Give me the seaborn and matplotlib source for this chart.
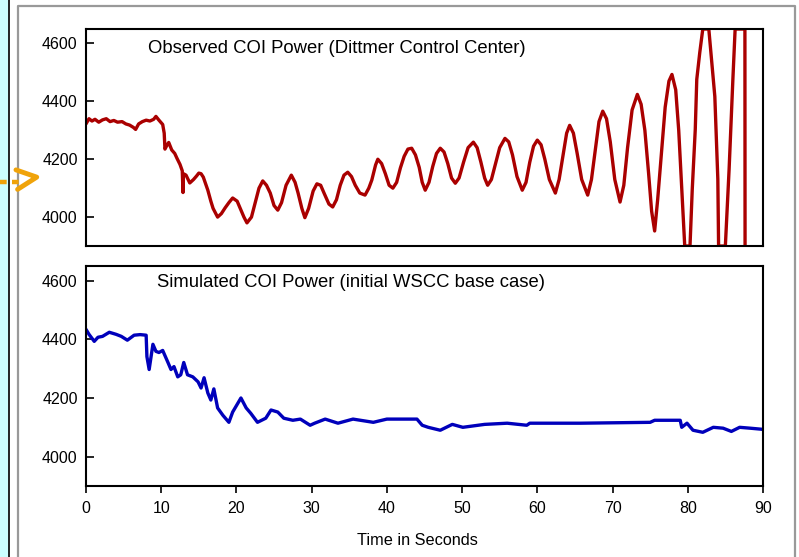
import matplotlib
matplotlib.use("Agg")
import matplotlib.pyplot as plt
from matplotlib.lines import Line2D
from matplotlib.patches import Rectangle
import seaborn as sns
import pandas as pd

# Observed COI power (Dittmer Control Center)
obs_time = [0.0, 0.4, 0.8, 1.2, 1.7, 2.2, 2.7, 3.2, 3.7, 4.2, 4.8, 5.3, 5.8, 6.3, 6.6,
            7.0, 7.5, 8.0, 8.5, 9.0, 9.3, 9.7, 10.2, 10.4, 10.5, 10.8, 11.0, 11.4, 11.8,
            12.1, 12.5, 12.8, 12.9, 12.95, 13.3, 13.8, 14.3, 14.7, 15.0, 15.3, 15.6, 16.2,
            16.6, 16.9, 17.5, 18.0, 18.5, 19.0, 19.5, 20.1, 20.7, 21.0, 21.4, 22.0, 22.5,
            23.0, 23.5, 24.0, 24.5, 25.0, 25.5, 26.0, 26.6, 27.3, 27.8, 28.2, 28.7, 29.1,
            29.6, 30.2, 30.7, 31.2, 31.7, 32.3, 32.8, 33.3, 33.8, 34.3, 34.8, 35.3, 35.8,
            36.4, 37.1, 37.6, 38.0, 38.5, 38.8, 39.3, 39.8, 40.3, 40.8, 41.3, 41.8, 42.3,
            42.8, 43.3, 43.8, 44.3, 44.7, 45.1, 45.6, 46.1, 46.6, 47.1, 47.6, 48.1, 48.6,
            49.1, 49.6, 50.2, 50.8, 51.5, 52.0, 52.5, 53.0, 53.4, 53.9, 54.4, 55.0, 55.7,
            56.2, 56.7, 57.3, 58.0, 58.5, 59.0, 59.5, 60.0, 60.5, 61.0, 61.6, 62.4, 62.9,
            63.4, 63.9, 64.3, 64.8, 65.3, 65.9, 66.7, 67.2, 67.7, 68.2, 68.7, 69.2, 69.7,
            70.3, 71.0, 71.5, 72.0, 72.6, 73.3, 73.8, 74.3, 74.8, 75.2, 75.6, 76.0, 76.5,
            77.0, 77.5, 77.9, 78.4, 78.8, 79.2, 79.6, 80.3, 80.6, 81.0, 81.2, 81.6, 82.0,
            82.8, 83.2, 83.6, 84.0, 84.1, 85.0, 85.5, 86.0, 86.3, 87.6, 87.62]
obs_power = [4322, 4340, 4332, 4338, 4328, 4336, 4340, 4330, 4334, 4328, 4330, 4322, 4318, 4310, 4303,
             4322, 4330, 4335, 4332, 4338, 4348, 4335, 4320, 4290, 4235, 4250, 4258, 4232, 4220,
             4203, 4182, 4160, 4085, 4150, 4145, 4118, 4130, 4142, 4152, 4150, 4138, 4093,
             4055, 4030, 4000, 4012, 4032, 4050, 4066, 4055, 4018, 4000, 3980, 4000, 4050,
             4100, 4125, 4110, 4083, 4040, 4024, 4050, 4110, 4145, 4120, 4083, 4030, 3998,
             4030, 4090, 4115, 4110, 4080, 4045, 4035, 4060, 4110, 4145, 4155, 4140, 4110,
             4083, 4076, 4100, 4128, 4180, 4200, 4185, 4150, 4110, 4100, 4120, 4170, 4210,
             4235, 4238, 4215, 4172, 4120, 4093, 4120, 4175, 4220, 4238, 4225, 4185, 4135,
             4117, 4135, 4190, 4240, 4259, 4240, 4190, 4135, 4110, 4130, 4180, 4240, 4272,
             4260, 4215, 4140, 4093, 4120, 4190, 4245, 4266, 4250, 4200, 4130, 4083, 4130,
             4210, 4290, 4317, 4290, 4220, 4130, 4076, 4130, 4230, 4330, 4366, 4340, 4260,
             4130, 4052, 4110, 4240, 4370, 4424, 4390, 4300, 4150, 4020, 3952, 4060, 4220,
             4380, 4470, 4493, 4440, 4300, 4100, 3900, 3900, 4096, 4303, 4476, 4569, 4650,
             4650, 4534, 4417, 4131, 3900, 3900, 4166, 4476, 4650, 4650, 3890]

# Simulated COI power (initial WSCC base case)
sim_time = [0.0, 0.4, 1.1, 1.6, 2.2, 3.1, 4.0, 4.7, 5.5, 6.4, 7.2, 8.0, 8.1, 8.4, 8.9,
            9.3, 9.7, 10.2, 10.9, 11.3, 11.7, 12.2, 12.6, 13.0, 13.5, 14.2, 14.9, 15.3,
            15.7, 16.2, 16.6, 17.0, 17.5, 18.2, 19.0, 19.5, 20.6, 21.3, 21.9, 22.8, 23.9,
            24.6, 25.5, 26.3, 27.5, 28.5, 29.8, 30.4, 31.8, 33.5, 35.5, 38.2, 40.0, 44.0,
            44.7, 45.5, 47.1, 48.7, 50.1, 53.0, 56.0, 58.6, 59.0, 63.0, 65.7, 75.0, 75.6,
            79.0, 79.2, 79.9, 80.7, 82.0, 83.4, 84.7, 85.8, 86.9, 88.3, 90.0]
sim_power = [4434, 4417, 4393, 4407, 4410, 4424, 4417, 4410, 4397, 4414, 4416, 4414, 4341, 4297, 4383,
             4359, 4355, 4362, 4321, 4297, 4307, 4272, 4279, 4321, 4279, 4272, 4255, 4234,
             4269, 4217, 4193, 4231, 4166, 4141, 4117, 4152, 4200, 4166, 4148, 4117, 4131,
             4159, 4152, 4131, 4124, 4128, 4107, 4114, 4128, 4114, 4128, 4117, 4128, 4128,
             4107, 4100, 4090, 4110, 4100, 4110, 4114, 4107, 4114, 4114, 4114, 4117, 4124,
             4124, 4100, 4114, 4090, 4083, 4100, 4097, 4086, 4100, 4097, 4093]

y_ticks = [4000, 4200, 4400, 4600]
x_ticks = [0, 10, 20, 30, 40, 50, 60, 70, 80, 90]

obs = pd.DataFrame({"Time": obs_time, "Power": obs_power})
sim = pd.DataFrame({"Time": sim_time, "Power": sim_power})

sns.set_style("ticks")
plt.rcParams["font.family"] = ["Liberation Sans", "DejaVu Sans"]
plt.rcParams["text.color"] = "black"
plt.rcParams["xtick.color"] = "black"
plt.rcParams["ytick.color"] = "black"

fig = plt.figure(figsize=(7.99, 5.57), dpi=100)

# slide decorations
fig.add_artist(Rectangle((0, 0), 0.0105, 1, transform=fig.transFigure, color="#ccffff", zorder=0))
fig.add_artist(Line2D([0.0108, 0.0108], [0, 1], transform=fig.transFigure, color="black", lw=1.2))
fig.add_artist(Line2D([0.0225, 0.0225, 0.995, 0.995], [0, 0.989, 0.989, 0],
                      transform=fig.transFigure, color="#999999", lw=1.6))
fig.add_artist(Line2D([0.0, 0.024], [0.673, 0.673], transform=fig.transFigure,
                      color="#f0a30a", lw=3.2, ls=(0, (1.5, 1.2))))
fig.add_artist(Line2D([0.02, 0.046, 0.022], [0.695, 0.682, 0.660], transform=fig.transFigure,
                      color="#f0a30a", lw=3.5))

ax1 = fig.add_axes([0.1076, 0.5583, 0.8473, 0.3896])
ax2 = fig.add_axes([0.1076, 0.1275, 0.8473, 0.3950])

sns.lineplot(data=obs, x="Time", y="Power", ax=ax1, color="#aa0000", lw=2.4,
             sort=False, estimator=None)
sns.lineplot(data=sim, x="Time", y="Power", ax=ax2, color="#0000bb", lw=2.4,
             sort=False, estimator=None)

for ax in (ax1, ax2):
    ax.set_xlim(0, 90)
    ax.set_ylim(3900, 4650)
    ax.set_yticks(y_ticks)
    ax.set_xlabel("")
    ax.set_ylabel("")
    for s in ax.spines.values():
        s.set_linewidth(1.5)
        s.set_color("black")
    ax.tick_params(axis="y", direction="in", length=6, width=1.2, labelsize=11.5, pad=6,
                   colors="black")

ax1.set_xticks([])
ax2.set_xticks(x_ticks)
ax2.tick_params(axis="x", direction="out", length=5, width=1.2, labelsize=11.5, pad=6,
                colors="black")

ax1.text(0.092, 0.91, "Observed COI Power (Dittmer Control Center)", transform=ax1.transAxes,
         fontsize=13.3, va="center", color="black")
ax2.text(0.105, 0.925, "Simulated COI Power (initial WSCC base case)", transform=ax2.transAxes,
         fontsize=13.3, va="center", color="black")
fig.text(0.523, 0.03, "Time in Seconds", ha="center", va="center", fontsize=11.7, color="black")

plt.savefig("out.png", dpi=100)
